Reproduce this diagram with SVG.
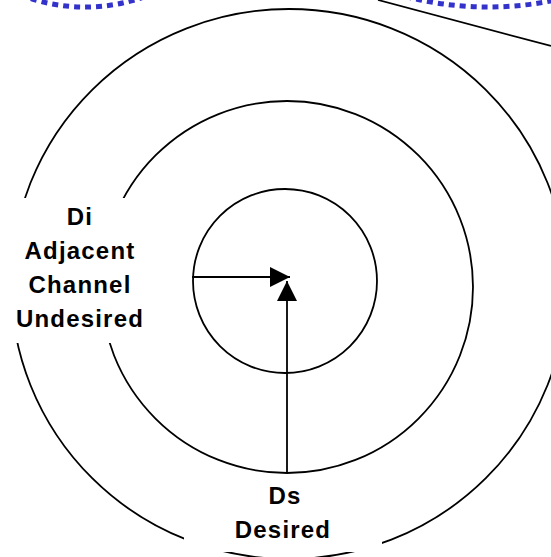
<svg xmlns="http://www.w3.org/2000/svg" width="551" height="557" viewBox="0 0 551 557">
<style>
.c{fill:none;stroke:#000;stroke-width:1.8}
.nb{fill:none;stroke:#3333cc;stroke-width:5;stroke-dasharray:6 5}
.lbl{font-family:"Liberation Sans",Arial,sans-serif;font-weight:bold;font-size:24px;letter-spacing:1.2px;text-anchor:middle;fill:#000}
.bg{fill:#fff;stroke:none}
</style>
<defs>
<marker id="ah" markerUnits="userSpaceOnUse" markerWidth="20" markerHeight="20" refX="20" refY="10" orient="auto" viewBox="0 0 20 20">
<path d="M0,0 L20,10 L0,20 z" fill="#000"/>
</marker>
</defs>
<g id="neighbour-cells">
<circle class="nb" cx="85" cy="-172" r="179"/>
<circle class="nb" cx="488" cy="-322" r="329"/>
</g>
<g id="outer-circle"><ellipse class="c" cx="289" cy="284" rx="278" ry="275"/></g>
<g id="middle-circle"><circle class="c" cx="287" cy="287" r="186"/></g>
<g id="inner-circle"><circle class="c" cx="285" cy="281" r="92"/></g>
<g id="connectors">
<line class="c" x1="378" y1="0" x2="551" y2="46"/>
<line class="c" x1="192" y1="277" x2="290" y2="277" marker-end="url(#ah)"/>
<line class="c" x1="287" y1="473" x2="287" y2="281" marker-end="url(#ah)"/>
</g>
<g id="label-di">
<rect class="bg" x="0" y="198" width="155" height="145"/>
<text class="lbl" x="80" y="225">Di</text>
<text class="lbl" x="80" y="259">Adjacent</text>
<text class="lbl" x="80" y="293">Channel</text>
<text class="lbl" x="80" y="327">Undesired</text>
</g>
<g id="label-ds">
<rect class="bg" x="184" y="478" width="198" height="74"/>
<text class="lbl" x="285" y="504">Ds</text>
<text class="lbl" x="283" y="538">Desired</text>
</g>
</svg>
